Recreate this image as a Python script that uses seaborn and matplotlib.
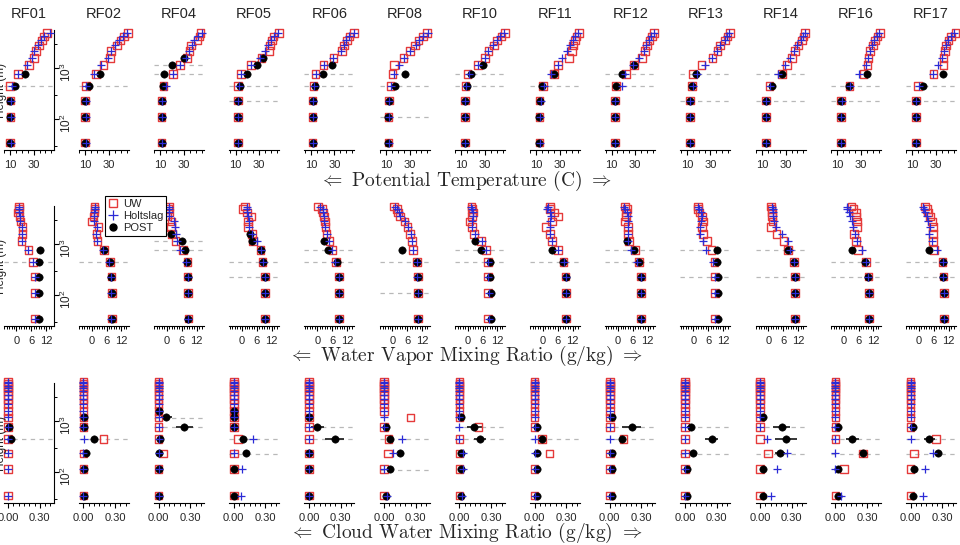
import numpy as np
import matplotlib
matplotlib.use("Agg")
import matplotlib.pyplot as plt
import seaborn as sns
from matplotlib.lines import Line2D
from matplotlib.ticker import FixedLocator, NullLocator, FixedFormatter, NullFormatter

nan = np.nan

FLIGHTS = ['RF01', 'RF02', 'RF04', 'RF05', 'RF06', 'RF08', 'RF10',
           'RF11', 'RF12', 'RF13', 'RF14', 'RF16', 'RF17']

# heights (m) of the profile levels
LEV_TQ = [35, 112, 232, 445, 770, 1160, 1600, 2180, 2800, 3500, 4200, 4830, 5450]
LEV_QC = [35, 115, 235, 448, 780, 1190, 1600, 2200, 2720, 3300, 3850, 4400, 4950, 5500, 5940]

# heights (m) of the dashed reference lines, per flight
DASH_H = [[445], [445], [770, 1160], [232, 445], [445, 770], [112, 445], [445, 770],
          [445], [445, 770], [232, 770], [232, 770], [232, 445], [232, 445]]

# ---- Potential temperature (C)
THETA_UW = [
    [10.2, 10.3, 10.3, 10.2, 17.0, 26.0, 30.5, 32.0, 34.8, 37.0, 39.0, 41.5],
    [10.0, 10.0, 10.0, 10.7, 18.9, 25.4, 31.0, 32.0, 36.7, 40.0, 43.0, 46.3],
    [11.0, 11.0, 11.0, 12.6, 20.9, 26.6, 32.3, 34.5, 35.7, 41.3, 43.0, 44.0],
    [11.8, 11.8, 11.8, 12.3, 14.6, 22.8, 32.0, 38.6, 39.2, 41.0, 42.0, 46.5],
    [11.6, 11.6, 11.6, 12.4, 14.0, 20.7, 29.1, 36.5, 38.0, 40.4, 42.7, 46.5],
    [12.0, 12.0, 12.3, 13.9, 15.4, 16.8, 24.7, 30.3, 34.6, 37.4, 41.1, 44.5],
    [13.0, 13.0, 13.0, 13.5, 15.5, 24.0, 30.0, 33.0, 37.8, 40.5, 44.0, 47.0],
    [12.5, 12.5, 12.7, 15.4, 24.9, 28.5, 37.5, 39.9, 41.0, 42.5, 44.0, 46.0],
    [12.9, 12.9, 12.9, 13.7, 22.2, 29.0, 35.5, 38.3, 39.8, 42.0, 44.0, 45.9],
    [12.7, 12.7, 12.8, 14.2, 15.5, 22.6, 31.6, 35.9, 38.1, 42.4, 44.3, 46.6],
    [13.4, 13.4, 13.5, 16.2, 26.7, 31.0, 35.2, 38.0, 40.8, 43.6, 45.0, 46.4],
    [13.0, 13.0, 13.2, 20.3, 32.1, 35.5, 36.4, 37.8, 40.1, 42.0, 44.0, 46.3],
    [13.1, 13.1, 13.2, 14.5, 28.0, 36.2, 36.2, 37.6, 38.5, 40.4, 42.5, 46.5],
]
THETA_H = [
    [10.5, 10.6, 10.6, 12.0, 17.0, 24.5, 29.0, 30.6, 34.0, 36.0, 38.5, 44.0],
    [10.3, 10.3, 10.3, 11.0, 17.7, 23.4, 29.6, 31.5, 35.3, 39.0, 41.8, 45.0],
    [11.2, 11.2, 11.2, 15.0, 20.9, 26.6, 31.7, 34.0, 36.5, 38.5, 42.0, 45.5],
    [12.0, 12.0, 12.0, 13.0, 15.0, 23.0, 31.0, 35.0, 37.5, 40.0, 42.5, 46.0],
    [11.8, 11.8, 11.8, 13.0, 14.5, 21.0, 29.0, 35.6, 38.0, 40.0, 42.5, 46.8],
    [12.2, 12.2, 12.5, 14.5, 17.0, 21.3, 25.5, 30.5, 35.0, 38.0, 41.5, 45.5],
    [13.3, 13.3, 13.3, 14.0, 16.5, 24.5, 30.5, 32.5, 37.0, 40.0, 43.0, 46.0],
    [12.7, 12.7, 14.0, 16.5, 22.3, 28.6, 31.5, 36.2, 38.5, 41.0, 43.0, 45.5],
    [13.1, 13.1, 13.1, 18.6, 21.5, 28.5, 33.5, 37.5, 39.5, 41.5, 43.5, 46.0],
    [12.9, 12.9, 13.0, 15.0, 18.5, 25.5, 31.0, 35.5, 38.5, 42.0, 44.0, 46.0],
    [13.6, 13.6, 13.7, 16.5, 23.8, 29.5, 33.5, 37.0, 40.0, 43.0, 45.0, 46.8],
    [13.2, 13.2, 14.0, 20.5, 28.7, 34.4, 36.0, 37.5, 39.5, 41.5, 43.5, 45.8],
    [13.3, 13.3, 13.4, 16.0, 27.2, 31.9, 35.0, 37.0, 38.5, 40.5, 42.5, 45.0],
]
THETA_POST = [
    [10.2, 10.3, 10.3, 14.5, 22.7],
    [10.0, 10.0, 10.0, 13.5, 22.6],
    [11.0, 11.0, 11.0, 12.5, 13.1, 19.6, 30.0],
    [11.8, 11.8, 11.8, 13.7, 19.9, 27.9, 33.0],
    [11.6, 11.6, 11.6, 13.6, 20.7, 27.7],
    [12.0, 12.0, 12.3, 17.6, 26.1],
    [13.0, 13.0, 13.0, 15.0, 18.0, 28.7],
    [12.5, 12.5, 12.7, 15.0, 24.9],
    [12.9, 12.9, 12.9, 13.7, 18.6, 29.0],
    [12.7, 12.7, 12.8, 14.2, 17.8],
    [13.4, 13.4, 13.5, 18.2, 26.7],
    [13.0, 13.0, 13.2, 20.3, 35.5],
    [13.1, 13.1, 13.2, 18.7, 36.2],
]

# ---- Water vapor mixing ratio (g/kg)
QV_UW = [
    [7.5, 7.5, 7.4, 6.8, 4.8, 2.1, 2.5, 2.5, 1.7, 1.3, 0.7, 0.9, 0.9],
    [8.1, 8.1, 8.0, 7.4, 5.0, 2.3, 2.0, 2.7, 0.1, 0.7, 1.1, 1.2, 1.1],
    [8.7, 8.6, 8.4, 8.3, 6.4, 3.5, 2.0, 1.6, 1.8, 0.3, 0.8, 0.6, 0.8],
    [9.3, 9.3, 9.2, 8.3, 7.5, 4.5, 3.9, 2.5, 2.5, 3.5, 1.9, 0.3, 1.2],
    [8.9, 8.8, 8.7, 7.6, 6.2, 4.9, 3.8, 3.4, 3.1, 2.8, 2.4, 1.9, 0.4],
    [10.4, 10.4, 10.2, 10.0, 8.4, 7.8, 7.0, 6.0, 4.8, 3.0, 2.2, 1.9, 0.6],
    [8.3, 8.3, 8.2, 8.2, 7.4, 5.4, 2.6, 1.8, 0.7, 1.8, 2.1, 1.8, 1.5],
    [9.3, 9.3, 9.2, 8.3, 6.0, 3.6, 3.0, 1.3, 3.6, 6.0, 4.7, 2.8, 2.8],
    [9.3, 9.3, 9.2, 8.5, 6.8, 4.5, 3.9, 3.9, 2.8, 3.2, 3.2, 3.5, 2.8],
    [8.8, 8.8, 8.7, 8.5, 7.4, 5.5, 4.0, 3.6, 4.0, 3.5, 2.5, 2.0, 1.8],
    [10.7, 10.7, 10.6, 10.3, 7.8, 6.0, 3.3, 1.0, 1.6, 1.5, 1.5, 1.2, 1.0],
    [10.2, 10.2, 10.0, 9.0, 5.9, 4.9, 4.2, 5.3, 5.3, 5.0, 5.0, 3.9, 3.2],
    [10.2, 10.2, 9.9, 9.6, 6.2, 5.6, 5.8, 5.6, 5.2, 4.5, 3.8, 3.4, 2.5],
]
QV_H = [
    [7.6, 7.5, 7.4, 6.6, 4.8, 2.1, 2.2, 2.2, 1.5, 1.4, 0.9, 1.0, 0.9],
    [8.0, 8.0, 7.8, 6.8, 4.5, 2.1, 1.8, 2.1, 0.8, 0.8, 1.1, 1.3, 1.2],
    [8.7, 8.6, 8.4, 7.6, 5.3, 3.9, 3.5, 3.1, 2.8, 0.8, 1.0, 0.8, 0.8],
    [9.3, 9.3, 9.2, 8.3, 7.6, 5.9, 4.2, 2.9, 2.9, 2.3, 2.0, 2.0, 2.0],
    [8.9, 8.8, 8.6, 7.0, 6.0, 4.6, 3.8, 3.2, 2.9, 2.8, 2.2, 2.2, 1.2],
    [10.3, 10.3, 10.1, 9.8, 8.4, 8.0, 7.3, 6.4, 5.0, 3.2, 2.5, 2.0, 0.9],
    [8.5, 8.5, 8.4, 8.4, 7.6, 5.8, 2.9, 1.8, 1.8, 2.2, 2.1, 1.8, 1.2],
    [9.3, 9.3, 9.2, 8.4, 6.2, 3.6, 2.8, 2.8, 2.8, 3.1, 2.8, 1.8, 2.0],
    [9.3, 9.3, 9.1, 7.8, 5.2, 4.2, 3.9, 3.9, 3.9, 3.9, 3.5, 2.8, 2.2],
    [8.9, 8.9, 8.8, 8.1, 5.1, 4.0, 2.8, 2.6, 3.1, 3.5, 3.1, 2.5, 1.8],
    [10.7, 10.7, 10.6, 10.3, 8.7, 7.8, 5.3, 3.1, 2.1, 2.0, 1.8, 1.8, 1.5],
    [10.2, 10.2, 10.0, 9.0, 7.3, 5.3, 4.6, 3.9, 3.2, 2.6, 2.2, 1.5, 1.2],
    [10.2, 10.2, 9.9, 9.6, 7.2, 5.2, 4.2, 4.5, 3.8, 3.2, 2.5, 2.1, 1.8],
]
QV_POST = [
    [9.2, 9.2, 9.2, 9.2, 9.4],
    [8.1, 8.1, 8.0, 7.4, 5.1],
    [8.7, 8.6, 8.4, 8.3, 7.3, 6.2, 1.8],
    [9.3, 9.3, 9.2, 8.3, 7.5, 3.9, 3.2],
    [8.9, 8.8, 8.7, 7.8, 4.5, 2.7],
    [10.4, 10.4, 10.2, 10.1, 4.0],
    [9.4, 9.3, 9.2, 9.0, 5.3, 3.0],
    [9.3, 9.3, 9.2, 8.0, 3.6],
    [9.3, 9.3, 9.2, 8.5, 6.5, 3.5],
    [9.9, 10.0, 9.8, 9.5, 9.5],
    [10.7, 10.7, 10.6, 10.3, 7.8],
    [10.2, 10.2, 10.0, 8.8, 3.5],
    [10.2, 10.2, 9.9, 9.6, 4.0],
]

# ---- Cloud water mixing ratio (g/kg)
QC_UW = [
    [0.0, 0.0, 0.0, 0.0, 0.0, 0.0, 0.0, 0.0, 0.0, 0.0, 0.0, 0.0, 0.0, 0.0, 0.0],
    [0.0, 0.0, 0.0, 0.19, 0.0, 0.0, 0.0, 0.0, 0.0, 0.0, 0.0, 0.0, 0.0, 0.0, 0.0],
    [0.0, 0.0, 0.045, 0.0, 0.0, 0.0, 0.0, 0.0, 0.0, 0.0, 0.0, 0.0, 0.0, 0.0, 0.0],
    [0.0, 0.0, 0.0, 0.043, 0.0, 0.0, 0.0, 0.0, 0.0, 0.0, 0.0, 0.0, 0.0, 0.0, 0.0],
    [0.0, 0.0, 0.0, 0.0, 0.0, 0.0, 0.0, 0.0, 0.0, 0.0, 0.0, 0.0, 0.0, 0.0, 0.0],
    [0.0, 0.0, 0.039, 0.04, 0.0, 0.25, 0.0, 0.0, 0.0, 0.0, 0.0, 0.0, 0.0, 0.0, 0.0],
    [0.0, 0.0, 0.0, 0.0, 0.18, 0.0, 0.0, 0.0, 0.0, 0.0, 0.0, 0.0, 0.0, 0.0, 0.0],
    [0.0, 0.0, 0.14, 0.07, 0.0, 0.0, 0.0, 0.0, 0.0, 0.0, 0.0, 0.0, 0.0, 0.0, 0.0],
    [0.0, 0.0, 0.0, 0.13, 0.0, 0.0, 0.0, 0.0, 0.0, 0.0, 0.0, 0.0, 0.0, 0.0, 0.0],
    [0.0, 0.0, 0.0, 0.0, 0.0, 0.0, 0.0, 0.0, 0.0, 0.0, 0.0, 0.0, 0.0, 0.0, 0.0],
    [0.0, 0.0, 0.077, 0.0, 0.0, 0.0, 0.0, 0.0, 0.0, 0.0, 0.0, 0.0, 0.0, 0.0, 0.0],
    [0.0, 0.082, 0.26, 0.0, 0.0, 0.0, 0.0, 0.0, 0.0, 0.0, 0.0, 0.0, 0.0, 0.0, 0.0],
    [0.0, 0.0, 0.03, 0.24, 0.0, 0.0, 0.0, 0.0, 0.0, 0.0, 0.0, 0.0, 0.0, 0.0, 0.0],
]
QC_H = [
    [0.0, 0.0, 0.0, 0.0, 0.0, 0.0, 0.0, 0.0, 0.0, 0.0, 0.0, 0.0, 0.0, 0.0, 0.0],
    [0.0, 0.0, 0.0, 0.01, 0.0, 0.0, 0.0, 0.0, 0.0, 0.0, 0.0, 0.0, 0.0, 0.0, 0.0],
    [0.0, 0.0, 0.0, 0.0, 0.0, 0.0, 0.0, 0.0, 0.0, 0.0, 0.0, 0.0, 0.0, 0.0, 0.0],
    [0.066, 0.075, 0.0, 0.18, 0.0, 0.0, 0.0, 0.0, 0.0, 0.0, 0.0, 0.0, 0.0, 0.0, 0.0],
    [0.0, 0.0, 0.0, 0.0, 0.0, 0.0, 0.0, 0.0, 0.0, 0.0, 0.0, 0.0, 0.0, 0.0, 0.0],
    [0.03, 0.0, 0.081, 0.166, 0.0, 0.0, 0.0, 0.0, 0.0, 0.0, 0.0, 0.0, 0.0, 0.0, 0.0],
    [0.028, 0.03, 0.036, 0.0, 0.0, 0.0, 0.0, 0.0, 0.0, 0.0, 0.0, 0.0, 0.0, 0.0, 0.0],
    [0.0, 0.0, 0.0, 0.0, 0.0, 0.0, 0.0, 0.0, 0.0, 0.0, 0.0, 0.0, 0.0, 0.0, 0.0],
    [0.0, 0.0, 0.0, 0.0, 0.0, 0.0, 0.0, 0.0, 0.0, 0.0, 0.0, 0.0, 0.0, 0.0, 0.0],
    [0.0, 0.0, 0.0, 0.0, 0.0, 0.0, 0.0, 0.0, 0.0, 0.0, 0.0, 0.0, 0.0, 0.0, 0.0],
    [0.1, 0.157, 0.257, 0.062, 0.0, 0.0, 0.0, 0.0, 0.0, 0.0, 0.0, 0.0, 0.0, 0.0, 0.0],
    [0.05, 0.0, 0.0, 0.0, 0.0, 0.0, 0.0, 0.0, 0.0, 0.0, 0.0, 0.0, 0.0, 0.0, 0.0],
    [0.115, 0.137, 0.21, 0.0, 0.0, 0.0, 0.0, 0.0, 0.0, 0.0, 0.0, 0.0, 0.0, 0.0, 0.0],
]
QC_POST = [
    [nan, nan, nan, 0.024, 0.005],
    [0.006, 0.006, 0.025, 0.104, 0.006, 0.006],
    [0.007, 0.007, 0.007, 0.01, 0.244, 0.074, 0.007],
    [0.0, 0.0, 0.113, 0.085, 0.0, 0.0, 0.0],
    [0.003, 0.003, 0.003, 0.246, 0.079, 0.003],
    [0.018, 0.055, 0.15, 0.055, 0.018],
    [0.016, 0.016, 0.016, 0.195, 0.142, 0.016],
    [0.02, 0.02, 0.02, 0.068, 0.02],
    [0.018, 0.018, 0.018, 0.113, 0.208, 0.018],
    [0.022, 0.022, 0.079, 0.253, 0.054],
    [0.024, 0.024, 0.188, 0.244, 0.204, 0.024],
    [0.028, 0.028, 0.264, 0.16, 0.028],
    [0.026, 0.03, 0.263, 0.178, 0.026],
]
QC_POST_ERR = [
    [nan, nan, nan, 0.015, 0.01],
    [0.005, 0.005, 0.01, 0.03, 0.005, 0.005],
    [0.005, 0.005, 0.005, 0.01, 0.08, 0.05, 0.005],
    [0.0, 0.0, 0.03, 0.03, 0.0, 0.0, 0.0],
    [0.005, 0.005, 0.005, 0.09, 0.06, 0.005],
    [0.01, 0.02, 0.03, 0.02, 0.01],
    [0.01, 0.01, 0.01, 0.06, 0.07, 0.01],
    [0.01, 0.01, 0.01, 0.03, 0.01],
    [0.01, 0.01, 0.01, 0.03, 0.09, 0.01],
    [0.01, 0.01, 0.03, 0.06, 0.03],
    [0.01, 0.01, 0.05, 0.10, 0.08, 0.01],
    [0.01, 0.01, 0.03, 0.06, 0.01],
    [0.01, 0.01, 0.03, 0.05, 0.01],
]

ROW_TITLES = [r'$\Leftarrow$ Potential Temperature (C) $\Rightarrow$',
              r'$\Leftarrow$ Water Vapor Mixing Ratio (g/kg) $\Rightarrow$',
              r'$\Leftarrow$ Cloud Water Mixing Ratio (g/kg) $\Rightarrow$']

# ---------------------------------------------------------------- style
sns.set_theme(style="ticks")
plt.rcParams['font.family'] = ['Liberation Sans', 'DejaVu Sans']
plt.rcParams['mathtext.fontset'] = 'cm'
plt.rcParams['axes.unicode_minus'] = False

RED = '#e53a3a'
BLUE = '#2b2bd6'
DASH = '#b8b8b8'

W, H = 960, 545
fig = plt.figure(figsize=(9.6, 5.45), dpi=100)
fig.patch.set_facecolor('white')

PX0, DX, PW, PH = 3.6, 75.2, 50, 120
ROW_BOTTOM = [150, 326, 503]

ROWS = [
    dict(uw=THETA_UW, h=THETA_H, post=THETA_POST, err=None, lev=LEV_TQ,
         xlim=(4.6, 46.9), major=[10, 30], labels=['10', '30'],
         minor=[5, 15, 20, 25, 35, 40, 45]),
    dict(uw=QV_UW, h=QV_H, post=QV_POST, err=None, lev=LEV_TQ,
         xlim=(-5.2, 15.0), major=[0, 6, 12], labels=['0', '6', '12'],
         minor=[v for v in range(-5, 15) if v not in (0, 6, 12)]),
    dict(uw=QC_UW, h=QC_H, post=QC_POST, err=QC_POST_ERR, lev=LEV_QC,
         xlim=(-0.043, 0.43), major=[0.0, 0.3], labels=['0.00', '0.30'],
         minor=[0.05, 0.10, 0.15, 0.20, 0.25, 0.35, 0.40]),
]

for r, row in enumerate(ROWS):
    for i, flight in enumerate(FLIGHTS):
        left = PX0 + DX * i
        ax = fig.add_axes([left / W, 1 - ROW_BOTTOM[r] / H, PW / W, PH / H])
        ax.patch.set_visible(False)
        ax.set_yscale('log')
        ax.set_ylim(25, 5600)
        ax.set_xlim(*row['xlim'])

        for hgt in DASH_H[i]:
            ax.axhline(hgt, color=DASH, lw=0.9, ls=(0, (3.5, 3.5)), zorder=1)

        lev = row['lev']
        uw = row['uw'][i]
        hh = row['h'][i]
        post = row['post'][i]

        if row['err'] is not None:
            err = row['err'][i]
            for x, e, y in zip(post, err, lev):
                if np.isfinite(x) and np.isfinite(e) and e > 0:
                    ax.hlines(y, x - e, x + e, color='#262626', lw=1.3, zorder=2)

        sns.scatterplot(x=uw, y=lev[:len(uw)], ax=ax, marker='s', s=30,
                        color=RED, facecolor='none', edgecolor=RED,
                        linewidth=1.0, zorder=3, clip_on=False, legend=False)
        sns.scatterplot(x=post, y=lev[:len(post)], ax=ax, marker='o', s=28,
                        color='black', edgecolor='black', linewidth=0.4,
                        zorder=4, clip_on=False, legend=False)
        sns.scatterplot(x=hh, y=lev[:len(hh)], ax=ax, marker='+', s=34,
                        color=BLUE, linewidth=0.9, zorder=5, clip_on=False,
                        legend=False)

        ax.set_xlabel('')
        ax.set_ylabel('')
        for sp in ('top', 'left', 'right'):
            ax.spines[sp].set_visible(False)
        ax.spines['bottom'].set_linewidth(0.8)
        ax.spines['bottom'].set_color('black')

        ax.xaxis.set_major_locator(FixedLocator(row['major']))
        ax.xaxis.set_major_formatter(FixedFormatter(row['labels']))
        ax.xaxis.set_minor_locator(FixedLocator(row['minor']))
        ax.tick_params(axis='x', which='major', length=3.5, width=0.8,
                       pad=3.5, labelsize=8, color='black', bottom=True)
        ax.tick_params(axis='x', which='minor', length=2.3, width=0.7,
                       color='black', bottom=True)

        if i == 0:
            ax.spines['right'].set_visible(True)
            ax.spines['right'].set_linewidth(0.8)
            ax.spines['right'].set_color('black')
            ax.yaxis.set_ticks_position('right')
            ax.yaxis.set_major_locator(FixedLocator([100, 1000]))
            ax.yaxis.set_major_formatter(FixedFormatter(
                [r'$\mathregular{10^{2}}$', r'$\mathregular{10^{3}}$']))
            ax.yaxis.set_minor_locator(FixedLocator([30, 300, 3000]))
            ax.yaxis.set_minor_formatter(NullFormatter())
            ax.tick_params(axis='y', which='major', length=3.5, width=0.8,
                           labelsize=8.5, pad=0.5, labelrotation=90,
                           right=True, left=False, color='black')
            ax.tick_params(axis='y', which='minor', length=2.3, width=0.7,
                           right=True, left=False, color='black')
        else:
            ax.yaxis.set_major_locator(NullLocator())
            ax.yaxis.set_minor_locator(NullLocator())

        if r == 0:
            fig.text((left + PW / 2) / W, 1 - 14 / H, flight, ha='center',
                     va='center', fontsize=10.5)

    fig.text(1.5 / W, 1 - (ROW_BOTTOM[r] - PH / 2) / H, 'Height (m)',
             rotation=90, ha='center', va='center', fontsize=8.5)

ROW_LABEL_Y = [181, 356, 533]
for r in range(3):
    fig.text(466 / W, 1 - ROW_LABEL_Y[r] / H, ROW_TITLES[r], ha='center',
             va='center', fontsize=14, family='cmr10')

handles = [
    Line2D([], [], marker='s', ls='none', mfc='none', mec=RED, ms=5.5, mew=1.0),
    Line2D([], [], marker='+', ls='none', color=BLUE, ms=6.5, mew=0.9),
    Line2D([], [], marker='o', ls='none', color='black', ms=5.0),
]
leg = fig.legend(handles, ['UW', 'Holtslag', 'POST'], loc='upper left',
                 bbox_to_anchor=(105 / W, 1 - 196 / H), frameon=True,
                 fancybox=False, edgecolor='black', framealpha=1, fontsize=8,
                 handlelength=0.8, handletextpad=0.5, borderpad=0.3,
                 labelspacing=0.15, borderaxespad=0)
leg.get_frame().set_linewidth(0.8)

fig.savefig('out.png', dpi=100, facecolor='white')
